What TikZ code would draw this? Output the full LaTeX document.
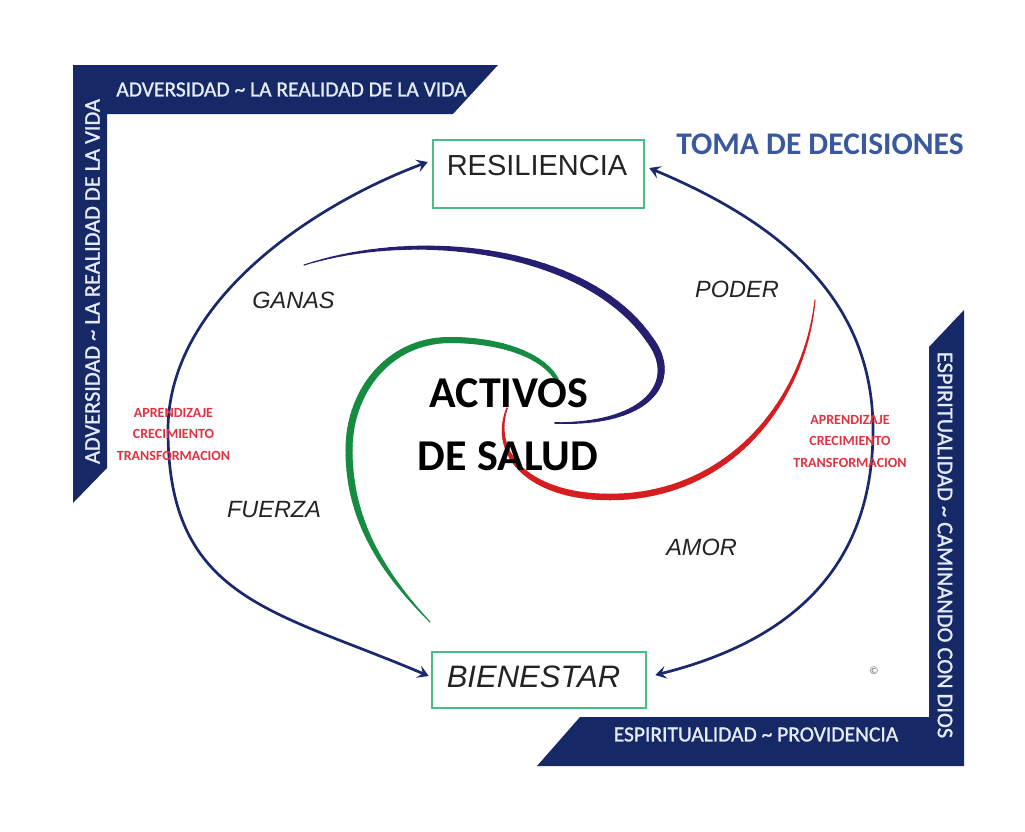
\documentclass[tikz,border=0pt]{standalone}
\usepackage{fontspec}
\setmainfont{Carlito}
\newfontfamily\arialf{Liberation Sans}
\newfontfamily\bandfont[FakeBold=1.2]{Carlito}
\usetikzlibrary{arrows.meta}
\definecolor{bandnavy}{RGB}{22,40,102}
\definecolor{bandtext}{RGB}{228,236,250}
\definecolor{arcnavy}{RGB}{28,40,108}
\definecolor{boxgreen}{RGB}{72,190,132}
\definecolor{spnavy}{RGB}{38,30,112}
\definecolor{spgreen}{RGB}{22,140,66}
\definecolor{spred}{RGB}{214,30,32}
\definecolor{redtxt}{RGB}{226,50,66}
\definecolor{tomablue}{RGB}{58,88,160}
\definecolor{lbl}{RGB}{35,35,35}
\newcommand\taperpiece[7]{%
  \foreach \k [evaluate=\k as \p using \k/40] in {0,...,40}{%
    \path #2 .. controls #3 and #4 .. #5 coordinate[pos=\p] (tp\k);}%
  \foreach \k [remember=\k as \j (initially 0)] in {1,...,40}{%
    \pgfmathsetmacro\tpt{(\k-0.5)/40}%
    \pgfmathsetmacro\tpw{#7>#6 ? #6+(#7-#6)*sin(90*\tpt) : #6+(#7-#6)*(1-cos(90*\tpt))}%
    \draw[#1, line width=\tpw pt, line cap=round] (tp\j) -- (tp\k);}%
}
\begin{document}
\begin{tikzpicture}[x=1pt,y=-1pt,
  band/.style={fill=bandnavy},
  bandlbl/.style={text=bandtext, inner sep=0pt, font=\bandfont\fontsize{21.5}{22}\selectfont},
  vbandlbl/.style={text=bandtext, inner sep=0pt, font=\bandfont\fontsize{22.4}{23}\selectfont},
  greenbox/.style={draw=boxgreen, line width=2.5pt, fill=white},
  boxlbl/.style={text=lbl, inner sep=0pt},
  quality/.style={text=lbl, inner sep=0pt, font=\arialf\itshape\fontsize{23.5}{24}\selectfont},
  redlbl/.style={text=redtxt, inner sep=0pt, align=center, font=\bfseries\fontsize{14}{21.5}\selectfont},
  arctip/.tip={Stealth[length=11pt,width=13pt,inset=4.5pt]},
  arcline/.style={draw=arcnavy, line width=2.7pt, arctip-arctip}
]
\useasboundingbox (0,0) rectangle (1025,831);
\fill[white] (0,0) rectangle (1025,831);

% corner bands
\fill[band] (73,65) -- (498,65) -- (453,114) -- (107,114) -- (107,468) -- (73,503) -- cycle;
\fill[band] (964,310) -- (964,766) -- (537,766) -- (580,717) -- (929,717) -- (929,347) -- cycle;
\node[bandlbl] (topband) at (291.5,89.5) {ADVERSIDAD \char"7E{} LA REALIDAD DE LA VIDA};
\node[vbandlbl, rotate=90] (leftband) at (92.5,281.5) {ADVERSIDAD \char"7E{} LA REALIDAD DE LA VIDA};
\node[vbandlbl, rotate=-90] (rightband) at (945,545) {ESPIRITUALIDAD \char"7E{} CAMINANDO CON DIOS};
\node[bandlbl] (bottomband) at (756,734.5) {ESPIRITUALIDAD \char"7E{} PROVIDENCIA};

% title
\node[text=tomablue, inner sep=0pt, font=\bfseries\fontsize{31.5}{32}\selectfont] (toma) at (820,144) {TOMA DE DECISIONES};

% boxes
\node[greenbox, minimum width=211pt, minimum height=68pt] (resil) at (538.5,174) {};
\node[greenbox, minimum width=214pt, minimum height=56pt] (bien) at (539,680) {};
\node[boxlbl, font=\arialf\fontsize{29}{29}\selectfont] (resiltxt) at (537,166) {RESILIENCIA};
\node[boxlbl, font=\arialf\itshape\fontsize{31}{31}\selectfont] (bientxt) at (533.5,677) {BIENESTAR};

% spirals
\taperpiece{spnavy}{(304,265)}{(420,228)}{(588,249)}{(650,340)}{1}{7.5}
\taperpiece{spnavy}{(650,340)}{(680,380)}{(650,425)}{(555,423)}{7.5}{1.5}
\taperpiece{spgreen}{(430,622)}{(382,572)}{(349,520)}{(349,450)}{1}{7}
\taperpiece{spgreen}{(349,450)}{(349,390)}{(390,340)}{(450,340)}{7}{6}
\taperpiece{spgreen}{(450,340)}{(500,340)}{(545,355)}{(558,382)}{6}{4}
\taperpiece{spred}{(815,300)}{(805,400)}{(730,497)}{(610,497)}{1}{6.5}
\taperpiece{spred}{(610,497)}{(530,497)}{(490,455)}{(507,408)}{6.5}{1.5}

% outer arcs
\draw[arcline] ([xshift=-4pt,yshift=12pt]resil.west) .. controls (315,204) and (168,300) .. (168,430)
  .. controls (168,600) and (274,610) .. ([xshift=-2pt,yshift=4pt]bien.west);
\draw[arcline] ([xshift=4pt,yshift=6pt]resil.east) .. controls (766,217) and (873,290) .. (873,430)
  .. controls (873,560) and (800,639) .. ([xshift=8pt,yshift=5pt]bien.east);

% center text
\node[text=black, inner sep=0pt, font=\bfseries\fontsize{44}{44}\selectfont] (activos) at (509,393.5) {ACTIVOS};
\node[text=black, inner sep=0pt, font=\bfseries\fontsize{44}{44}\selectfont] (salud) at (508,456.5) {DE SALUD};

% quality labels
\node[quality] (ganas) at (293.5,300) {GANAS};
\node[quality] (poder) at (737,289) {PODER};
\node[quality] (fuerza) at (274,510) {FUERZA};
\node[quality] (amor) at (701.5,547) {AMOR};

% red labels
\node[redlbl] (redleft) at (173.5,434) {APRENDIZAJE\\CRECIMIENTO\\TRANSFORMACION};
\node[redlbl] (redright) at (850,441) {APRENDIZAJE\\CRECIMIENTO\\TRANSFORMACION};

% copyright
\node[text=gray!80!black, inner sep=0pt, font=\fontsize{11}{11}\selectfont] (copy) at (874,671) {©};
\end{tikzpicture}
\end{document}
